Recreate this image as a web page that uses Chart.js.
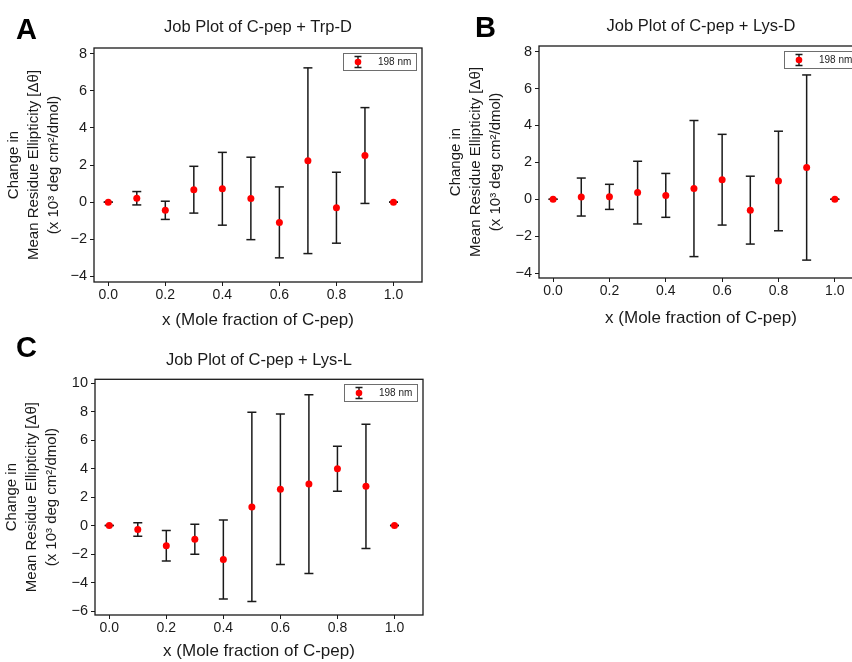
<!DOCTYPE html>
<html><head><meta charset="utf-8">
<script src="https://cdn.jsdelivr.net/npm/chart.js@4/dist/chart.umd.min.js"></script>
<style>
html,body{margin:0;padding:0;background:#fff;overflow:hidden;width:852px;height:662px;}
.panel{position:absolute;}
.letter{position:absolute;font:bold 29px "Liberation Sans",Arial,sans-serif;color:#000;line-height:29px;}
</style></head><body>
<div class="panel" style="left:0;top:0"><canvas id="cA" width="430" height="332"></canvas></div>
<div class="panel" style="left:430px;top:0"><canvas id="cB" width="440" height="332"></canvas></div>
<div class="panel" style="left:0;top:330px"><canvas id="cC" width="430" height="332"></canvas></div>
<div class="letter" style="left:16px;top:15px">A</div>
<div class="letter" style="left:475px;top:13px">B</div>
<div class="letter" style="left:16px;top:333px">C</div>
<script>
// ---- data ----
const xValues = [0.0, 0.1, 0.2, 0.3, 0.4, 0.5, 0.6, 0.7, 0.8, 0.9, 1.0];
const xTicks = [0.0, 0.2, 0.4, 0.6, 0.8, 1.0];
const seriesLabel = '198 nm';

const trpD_mean = [0, 0.21, -0.44, 0.67, 0.72, 0.20, -1.09, 2.23, -0.30, 2.51, 0];
const trpD_err  = [0, 0.36, 0.49, 1.26, 1.96, 2.22, 1.91, 5.00, 1.91, 2.58, 0];

const lysD_mean = [0, 0.12, 0.13, 0.36, 0.21, 0.58, 1.06, -0.59, 0.99, 1.72, 0];
const lysD_err  = [0, 1.03, 0.68, 1.70, 1.19, 3.69, 2.46, 1.84, 2.70, 5.02, 0];

const lysL_mean = [0, -0.27, -1.41, -0.96, -2.38, 1.31, 2.56, 2.92, 4.00, 2.76, 0];
const lysL_err  = [0, 0.48, 1.07, 1.05, 2.78, 6.65, 5.29, 6.28, 1.58, 4.36, 0];

const yTicksAB = [-4, -2, 0, 2, 4, 6, 8];
const yTicksC  = [-6, -4, -2, 0, 2, 4, 6, 8, 10];

const titles = ['Job Plot of C-pep + Trp-D', 'Job Plot of C-pep + Lys-D', 'Job Plot of C-pep + Lys-L'];
const xTitle = 'x (Mole fraction of C-pep)';
const yTitle = ['Change in', 'Mean Residue Ellipticity [\u0394\u03B8]', '(x 10\u00B3 deg cm\u00B2/dmol)'];

// ---- drawing ----
const FONT = '"Liberation Sans", Arial, Helvetica, sans-serif';
const INK = '#1a1a1a';

const framePlugin = {
  id: 'frame',
  afterDraw(chart) {
    const a = chart.chartArea, ctx = chart.ctx;
    ctx.save();
    ctx.strokeStyle = INK; ctx.lineWidth = 1.3;
    ctx.strokeRect(a.left, a.top, a.right - a.left, a.bottom - a.top);
    ctx.restore();
  }
};

const legendPlugin = {
  id: 'errLegend',
  afterDraw(chart) {
    const a = chart.chartArea, ctx = chart.ctx;
    const w = 73, h = 17;
    const left = Math.round(a.right - 6 - w), top = Math.round(a.top + 5);
    ctx.save();
    ctx.fillStyle = '#fff'; ctx.fillRect(left, top, w, h);
    ctx.strokeStyle = '#6e6e6e'; ctx.lineWidth = 1;
    ctx.strokeRect(left + 0.5, top + 0.5, w, h);
    const mx = left + 15, my = top + h / 2 + 0.5;
    ctx.strokeStyle = INK; ctx.lineWidth = 1.4;
    ctx.beginPath();
    ctx.moveTo(mx, my - 5.5); ctx.lineTo(mx, my + 5.5);
    ctx.moveTo(mx - 3.5, my - 5.5); ctx.lineTo(mx + 3.5, my - 5.5);
    ctx.moveTo(mx - 3.5, my + 5.5); ctx.lineTo(mx + 3.5, my + 5.5);
    ctx.stroke();
    ctx.fillStyle = '#ff0000';
    ctx.beginPath(); ctx.arc(mx, my, 3.3, 0, Math.PI * 2); ctx.fill();
    ctx.fillStyle = '#222'; ctx.font = '10px ' + FONT; ctx.textBaseline = 'middle';
    ctx.fillText(seriesLabel, left + 35, my);
    ctx.restore();
  }
};

function makeChart(id, means, errs, yTicks, L) {
  const pts = xValues.map((x, i) => ({x: x, y: means[i]}));
  const caps = [];
  const bars = [];
  xValues.forEach((x, i) => {
    const lo = means[i] - errs[i], hi = means[i] + errs[i];
    caps.push({x: x, y: lo}, {x: x, y: hi});
    bars.push({x: x, y: lo}, {x: x, y: hi}, {x: x, y: null});
  });
  return new Chart(document.getElementById(id), {
    type: 'scatter',
    data: {
      datasets: [
        {label: seriesLabel, data: pts, pointRadius: 3.5, pointBackgroundColor: '#ff0000', pointBorderWidth: 0, showLine: false},
        {label: 'caps', data: caps, pointStyle: 'line', pointRadius: 4.5, pointBorderColor: INK, pointBorderWidth: 1.5, showLine: false},
        {label: 'bars', data: bars, showLine: true, spanGaps: false, pointRadius: 0, borderColor: INK, borderWidth: 1.5}
      ]
    },
    options: {
      responsive: false, animation: false, events: [],
      layout: {padding: {left: 0, top: 0, right: L.rightPad, bottom: 0}},
      plugins: {
        legend: {display: false}, tooltip: {enabled: false},
        title: {display: true, text: L.title, fullSize: false, color: '#1a1a1a',
          font: {family: FONT, size: 16.5, weight: 'normal', lineHeight: 1.2},
          padding: {top: L.tPadTop, bottom: L.tPadBottom}}
      },
      scales: {
        x: {
          type: 'linear', min: -0.05, max: 1.1,
          afterBuildTicks: s => { s.ticks = xTicks.map(v => ({value: v})); },
          afterFit: s => { s.height = L.xH; },
          grid: {drawOnChartArea: false, drawTicks: true, tickLength: 4, tickColor: INK, tickWidth: 1},
          border: {display: false},
          ticks: {color: '#1a1a1a', padding: 1, font: {family: FONT, size: 14, lineHeight: 1.2},
            callback: v => Number(v).toFixed(1)},
          title: {display: true, text: xTitle, color: '#1a1a1a', font: {family: FONT, size: 17, lineHeight: 1.2},
            padding: {top: 0, bottom: L.xtPad}}
        },
        y: {
          type: 'linear', min: L.yMin, max: L.yMax,
          afterBuildTicks: s => { s.ticks = yTicks.map(v => ({value: v})); },
          afterFit: s => { s.width = L.yW; },
          grid: {drawOnChartArea: false, drawTicks: true, tickLength: 4, tickColor: INK, tickWidth: 1},
          border: {display: false},
          ticks: {color: '#1a1a1a', padding: 3, font: {family: FONT, size: 14.5},
            callback: v => String(v).replace('-', '\u2212')},
          title: {display: true, text: yTitle, color: '#1a1a1a', font: {family: FONT, size: 15, lineHeight: 1.33},
            padding: {top: L.ytPad, bottom: 0}}
        }
      }
    },
    plugins: [framePlugin, legendPlugin]
  });
}

makeChart('cA', trpD_mean, trpD_err, yTicksAB,
  {title: titles[0], rightPad: 8, tPadTop: 17.1, tPadBottom: 11.1, xH: 50, xtPad: 1.8, yW: 94, ytPad: 4, yMin: -4.3, yMax: 8.3});
makeChart('cB', lysD_mean, lysD_err, yTicksAB,
  {title: titles[1], rightPad: 7, tPadTop: 16.8, tPadBottom: 9.4, xH: 54, xtPad: 3.8, yW: 109, ytPad: 16, yMin: -4.27, yMax: 8.31});
makeChart('cC', lysL_mean, lysL_err, yTicksC,
  {title: titles[2], rightPad: 7, tPadTop: 20.1, tPadBottom: 9.4, xH: 47, xtPad: 0, yW: 95, ytPad: 2, yMin: -6.28, yMax: 10.28});
</script>
</body></html>
